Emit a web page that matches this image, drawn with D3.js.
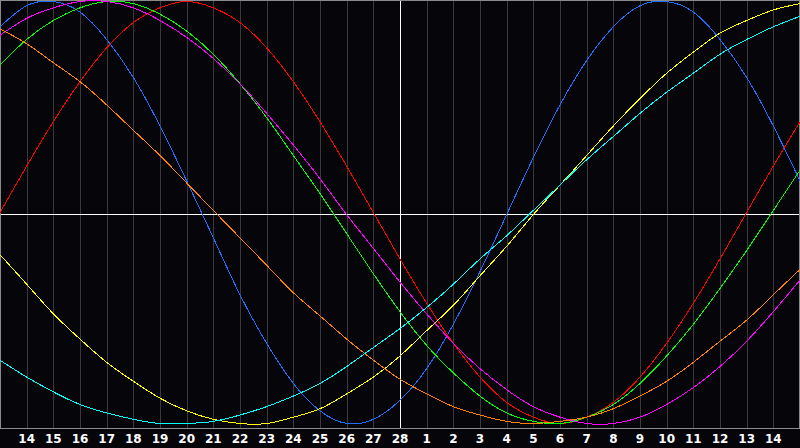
<!DOCTYPE html>
<html>
<head>
<meta charset="utf-8">
<script src="https://cdn.jsdelivr.net/npm/d3@7"></script>
<style>
  html, body { margin: 0; padding: 0; background: #05050a; }
  svg { display: block; }
</style>
</head>
<body>
<div id="chart"></div>
<script>
// day labels under the grid (28 is "today", in the middle)
const dayLabels = ['14','15','16','17','18','19','20','21','22','23','24','25','26','27','28',
  '1','2','3','4','5','6','7','8','9','10','11','12','13','14']

// values in percent, one per day column from the left edge to the right edge
const physical = [88,98,100,95,82,64,41,15,-12,-39,-62,-81,-94,-100,-98,-89,-74,-53,-28,-1,26,51,72,88,98,100,95,82,64,41,15]
const emotional = [0,22,43,62,78,90,97,100,97,90,78,62,43,22,0,-22,-43,-62,-78,-90,-97,-100,-97,-90,-78,-62,-43,-22,0,22,43]
const intellectual = [70,82,91,97,100,99,94,86,75,61,45,27,9,-10,-29,-47,-63,-76,-87,-95,-99,-100,-97,-91,-81,-68,-53,-36,-18,1,20]
const intuitive = [84,92,97,100,100,97,91,83,73,61,47,32,16,-1,-17,-33,-48,-62,-74,-84,-92,-97,-100,-100,-97,-91,-83,-73,-61,-47,-32]
const aesthetic = [-20,-34,-48,-60,-71,-80,-88,-94,-98,-100,-100,-97,-93,-86,-78,-68,-56,-44,-30,-16,-1,13,27,41,54,66,76,85,91,96,99]
const awareness = [87,80,71,62,51,39,27,14,1,-12,-25,-38,-49,-60,-70,-79,-86,-92,-96,-99,-100,-99,-97,-93,-87,-80,-71,-61,-51,-39,-27]
const spiritual = [-70,-78,-85,-91,-95,-98,-100,-100,-99,-96,-92,-87,-81,-73,-64,-55,-45,-34,-22,-11,1,13,25,36,47,57,66,75,82,88,93]

const w = 800, h = 448
const plotH = 428

const series = [
  { values: physical, color: '#1e6eff' },
  { values: emotional, color: '#ff0000' },
  { values: intellectual, color: '#00ff00' },
  { values: intuitive, color: '#ff00ff' },
  { values: aesthetic, color: '#ffff00' },
  { values: awareness, color: '#ff8000' },
  { values: spiritual, color: '#00ffff' },
]

const x = d3.scaleLinear().domain([0, 30]).range([0, w])
const y = d3.scaleLinear().domain([-100, 100]).range([423.5, 1.5])

const svg = d3.select('#chart').append('svg')
  .attr('width', w)
  .attr('height', h)

svg.append('rect')
  .attr('width', w)
  .attr('height', h)
  .attr('fill', '#05050a')

// vertical day lines, the one for today is white
svg.append('g')
  .selectAll('line')
  .data(dayLabels)
  .enter()
  .append('line')
  .attr('x1', (d, i) => Math.round(x(i + 1)) + 0.5)
  .attr('x2', (d, i) => Math.round(x(i + 1)) + 0.5)
  .attr('y1', 0)
  .attr('y2', plotH)
  .attr('stroke', (d, i) => i === 14 ? '#ffffff' : '#3a3a3e')
  .attr('shape-rendering', 'crispEdges')

// centre line
svg.append('line')
  .attr('x1', 0).attr('x2', w)
  .attr('y1', 214.5).attr('y2', 214.5)
  .attr('stroke', '#ffffff')
  .attr('shape-rendering', 'crispEdges')

// frame
svg.append('rect')
  .attr('x', 0.5).attr('y', 0.5)
  .attr('width', w - 1).attr('height', plotH - 0.5)
  .attr('fill', 'none')
  .attr('stroke', '#8a8a8a')
  .attr('shape-rendering', 'crispEdges')

const line = d3.line()
  .x((d, i) => x(i))
  .y(d => y(d))
  .curve(d3.curveNatural)

svg.append('g')
  .selectAll('path')
  .data(series)
  .enter()
  .append('path')
  .attr('d', d => line(d.values))
  .attr('fill', 'none')
  .attr('stroke', d => d.color)
  .attr('stroke-width', 1)
  .attr('shape-rendering', 'crispEdges')

svg.append('g')
  .selectAll('text')
  .data(dayLabels)
  .enter()
  .append('text')
  .attr('x', (d, i) => x(i + 1))
  .attr('y', 443)
  .attr('text-anchor', 'middle')
  .attr('font-family', 'DejaVu Sans, sans-serif')
  .attr('font-size', '12px')
  .attr('font-weight', 'bold')
  .attr('fill', 'white')
  .text(d => d)
</script>
</body>
</html>
